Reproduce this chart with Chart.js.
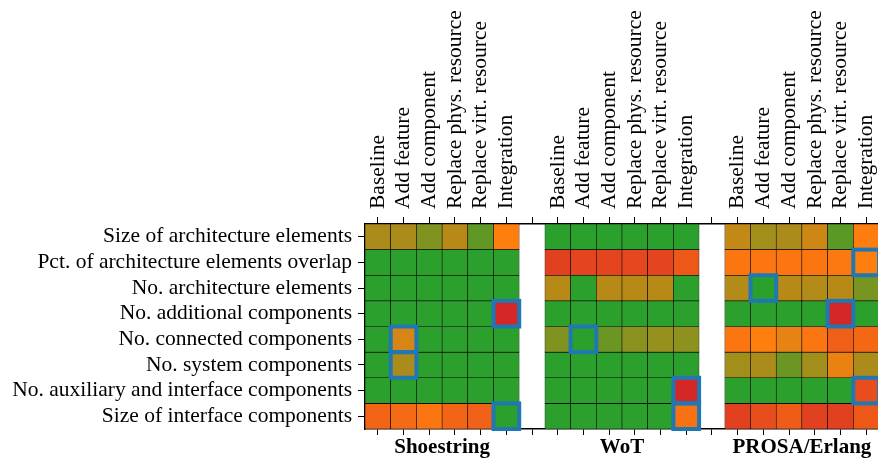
<!DOCTYPE html>
<html>
<head>
<meta charset="utf-8">
<script src="https://cdn.jsdelivr.net/npm/chart.js@4/dist/chart.umd.min.js"></script>
<style>
  html, body { margin: 0; padding: 0; background: #fff; overflow: hidden; }
</style>
</head>
<body>
<canvas id="heatmap" width="879" height="462"></canvas>
<script>
// lignes (métriques) et colonnes (scénarios)
const metrics = [
  'Size of architecture elements',
  'Pct. of architecture elements overlap',
  'No. architecture elements',
  'No. additional components',
  'No. connected components',
  'No. system components',
  'No. auxiliary and interface components',
  'Size of interface components'
];
const scenarios = ['Baseline', 'Add feature', 'Add component', 'Replace phys. resource', 'Replace virt. resource', 'Integration'];
const systems = ['Shoestring', 'WoT', 'PROSA/Erlang'];

// scores 0 = vert, 0.5 = orange, 1 = rouge (une ligne par métrique)
const shoestring = [
  [0.30, 0.30, 0.20, 0.33, 0.12, 0.50],
  [0, 0, 0, 0, 0, 0],
  [0, 0, 0, 0, 0, 0],
  [0, 0, 0, 0, 0, 1.00],
  [0, 0.40, 0, 0, 0, 0],
  [0, 0.30, 0, 0, 0, 0],
  [0, 0, 0, 0, 0, 0],
  [0.65, 0.62, 0.55, 0.65, 0.67, 0]
];
const wot = [
  [0, 0, 0, 0, 0, 0],
  [0.85, 0.83, 0.83, 0.82, 0.83, 0.72],
  [0.33, 0, 0.33, 0.33, 0.33, 0],
  [0, 0, 0, 0, 0, 0],
  [0.20, 0, 0.15, 0.22, 0.25, 0.23],
  [0, 0, 0, 0, 0, 0],
  [0, 0, 0, 0, 0, 1.00],
  [0, 0, 0, 0, 0, 0.58]
];
const prosa = [
  [0.36, 0.28, 0.30, 0.38, 0.11, 0.51],
  [0.55, 0.55, 0.55, 0.55, 0.54, 0.50],
  [0.32, 0, 0.33, 0.32, 0.33, 0.18],
  [0, 0, 0, 0, 1.00, 0],
  [0.55, 0.50, 0.44, 0.55, 0.68, 0.63],
  [0.28, 0.30, 0.15, 0.28, 0.45, 0.30],
  [0, 0, 0, 0, 0, 0.78],
  [0.85, 0.78, 0.70, 0.85, 0.85, 0.72]
];

// cellules encadrées en bleu : [ligne, colonne]
const highlighted = [
  [3, 5], [4, 1], [5, 1], [7, 5],
  [4, 8], [6, 12], [7, 12],
  [1, 19], [2, 15], [3, 18], [6, 19]
];

// colonnes : 6 + vide + 6 + vide + 6
const groups = [shoestring, wot, prosa];
const colLabels = [];
groups.forEach((g, i) => {
  colLabels.push(...scenarios);
  if (i < groups.length - 1) colLabels.push('');
});

const green = [44, 160, 44], orange = [255, 127, 14], red = [214, 39, 40];
function couleur(v) {
  let a, b, t;
  if (v <= 0.5) { a = green; b = orange; t = v / 0.5; }
  else { a = orange; b = red; t = (v - 0.5) / 0.5; }
  const c = a.map((x, k) => Math.round(x + (b[k] - x) * t));
  return `rgb(${c[0]},${c[1]},${c[2]})`;
}

// un dataset empilé par métrique
const datasets = metrics.map((m, r) => {
  const data = [], colors = [];
  groups.forEach((g, i) => {
    g[r].forEach(v => { data.push(1); colors.push(couleur(v)); });
    if (i < groups.length - 1) { data.push(null); colors.push('#fff'); }
  });
  return {
    label: m,
    data: data,
    backgroundColor: colors,
    borderColor: '#000',
    borderWidth: 0.6,
    borderSkipped: false,
    barPercentage: 1,
    categoryPercentage: 1
  };
});

const serif = "'Liberation Serif', 'Times New Roman', serif";

const encadrement = {
  id: 'encadrement',
  afterDatasetsDraw(chart) {
    const { ctx, scales } = chart;
    const w = scales.x.getPixelForValue(1) - scales.x.getPixelForValue(0);
    ctx.save();
    ctx.strokeStyle = '#1f77b4';
    ctx.lineWidth = 4;
    highlighted.forEach(([r, c]) => {
      const x = scales.x.getPixelForValue(c) - w / 2;
      const y0 = scales.y.getPixelForValue(r);
      const y1 = scales.y.getPixelForValue(r + 1);
      ctx.strokeRect(x, y0, w, y1 - y0);
    });
    ctx.restore();
  }
};

const titresGroupes = {
  id: 'titresGroupes',
  afterDraw(chart) {
    const { ctx, scales } = chart;
    ctx.save();
    ctx.font = 'bold 21px ' + serif;
    ctx.fillStyle = '#000';
    ctx.textAlign = 'center';
    ctx.textBaseline = 'alphabetic';
    systems.forEach((s, i) => {
      ctx.fillText(s, scales.x.getPixelForValue(i * 7 + 2.5), 453);
    });
    ctx.restore();
  }
};

new Chart(document.getElementById('heatmap'), {
  type: 'bar',
  data: { labels: colLabels, datasets: datasets },
  options: {
    responsive: false,
    animation: false,
    layout: { padding: 0 },
    plugins: { legend: { display: false }, tooltip: { enabled: false } },
    scales: {
      x: {
        position: 'top',
        stacked: true,
        offset: true,
        grid: { offset: false, drawOnChartArea: false, tickLength: 7, color: '#000', lineWidth: 1 },
        border: { color: '#000', width: 1.5 },
        ticks: {
          autoSkip: false, minRotation: 90, maxRotation: 90, padding: 8, labelOffset: 26,
          color: '#000', font: { family: serif, size: 21.5 }
        },
        afterFit: s => { s.height = 224; }
      },
      x2: {
        type: 'category',
        labels: colLabels,
        position: 'bottom',
        offset: true,
        grid: { offset: false, drawOnChartArea: false, tickLength: 6, color: '#000', lineWidth: 1 },
        border: { color: '#000', width: 1.5 },
        ticks: { autoSkip: false, maxRotation: 0, callback: () => '' },
        afterFit: s => { s.height = 33; }
      },
      y: {
        type: 'linear',
        stacked: true,
        reverse: true,
        min: 0,
        max: 8,
        afterBuildTicks: axis => { axis.ticks = metrics.map((m, i) => ({ value: i + 0.5 })); },
        grid: { drawOnChartArea: false, tickLength: 7, color: '#000', lineWidth: 1 },
        border: { color: '#000', width: 1.5 },
        ticks: {
          padding: 6, color: '#000', font: { family: serif, size: 21.5 },
          callback: v => metrics[Math.floor(v)]
        },
        afterFit: s => { s.width = 365; }
      }
    }
  },
  plugins: [encadrement, titresGroupes]
});
</script>
</body>
</html>
